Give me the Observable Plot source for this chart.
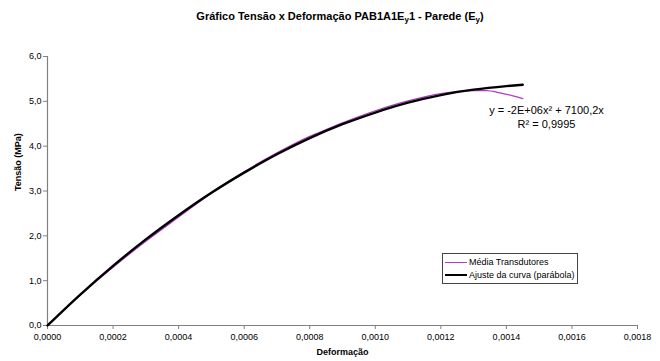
<!DOCTYPE html>
<html>
<head>
<meta charset="utf-8">
<script src="https://cdn.jsdelivr.net/npm/d3@7"></script>
<script src="https://cdn.jsdelivr.net/npm/@observablehq/plot@0.6"></script>
<style>
  body { margin: 0; background: #fff; font-family: "Liberation Sans", Arial, sans-serif; }
  #wrap { position: relative; width: 660px; height: 361px; }
  #title { height: 40px; box-sizing: border-box; padding-top: 10px; padding-left: 20px; text-align: center;
           font-weight: bold; font-size: 11px; color: #000; }
  #title sub { font-size: 8px; vertical-align: -2px; line-height: 0; }
  #legend { position: absolute; left: 442px; top: 253px; width: 136px; height: 31px; box-sizing: border-box;
            border: 1px solid #444; background: #fff; font-size: 9px; color: #000; }
  .row { position: absolute; left: 2px; height: 12px; display: flex; align-items: center; white-space: nowrap; }
  .sw { width: 22px; margin-right: 2px; }
</style>
</head>
<body>
<div id="wrap">
  <div id="title">Gráfico Tensão x Deformação PAB1A1E<sub>y</sub>1 - Parede (E<sub>y</sub>)</div>
  <div id="chart"></div>
  <div id="legend"></div>
</div>
<script>
// Series: "Média Transdutores" (measured average)
const mediaX = [0, 0.0001, 0.0002, 0.0003, 0.0004, 0.0005, 0.0006, 0.0007, 0.0008, 0.00085, 0.0009, 0.0010, 0.0011, 0.0012, 0.00125, 0.0013, 0.00134, 0.00138, 0.00142, 0.00145];
const mediaY = [0, 0.68, 1.30, 1.88, 2.42, 2.95, 3.43, 3.85, 4.22, 4.37, 4.52, 4.79, 5.01, 5.17, 5.22, 5.24, 5.24, 5.19, 5.12, 5.06];
// Series: "Ajuste da curva (parábola)" (fitted curve)
const ajusteX = [0, 0.0001, 0.0002, 0.0003, 0.0004, 0.0005, 0.0006, 0.0007, 0.0008, 0.0009, 0.0010, 0.0011, 0.0012, 0.0013, 0.0014, 0.00145];
const ajusteY = [0, 0.69, 1.33, 1.92, 2.46, 2.96, 3.41, 3.82, 4.18, 4.49, 4.75, 4.97, 5.14, 5.26, 5.34, 5.37];
// Ticks
const xTicks = [0, 0.0002, 0.0004, 0.0006, 0.0008, 0.0010, 0.0012, 0.0014, 0.0016, 0.0018];
const yTicks = [0, 1, 2, 3, 4, 5, 6];
// Labels
const seriesNames = ["Média Transdutores", "Ajuste da curva (parábola)"];
const seriesColors = ["#b03cc0", "#000000"];
const equationLines = ["y = -2E+06x² + 7100,2x", "R² = 0,9995"];

const media = mediaX.map((x, i) => ({x, y: mediaY[i]}));
const ajuste = ajusteX.map((x, i) => ({x, y: ajusteY[i]}));
const fmtX = d => d.toFixed(4).replace(".", ",");
const fmtY = d => d.toFixed(1).replace(".", ",");

const plot = Plot.plot({
  width: 660,
  height: 321,
  marginTop: 16,
  marginBottom: 36,
  marginLeft: 47,
  marginRight: 23,
  style: {fontFamily: "Liberation Sans, Arial, sans-serif", fontSize: "9px", color: "#000", background: "#fff"},
  x: {domain: [0, 0.0018]},
  y: {domain: [0, 6]},
  marks: [
    Plot.ruleY([0], {stroke: "#808080", strokeWidth: 1.2}),
    Plot.ruleX([0], {stroke: "#808080", strokeWidth: 1.2}),
    Plot.axisX({ticks: xTicks, tickFormat: fmtX, tickSize: 4, tickPadding: 4, stroke: "#808080", label: null}),
    Plot.axisY({ticks: yTicks, tickFormat: fmtY, tickSize: 4, tickPadding: 2, stroke: "#808080", label: null}),
    Plot.line(media, {x: "x", y: "y", stroke: seriesColors[0], strokeWidth: 1.3, curve: "monotone-x"}),
    Plot.line(ajuste, {x: "x", y: "y", stroke: seriesColors[1], strokeWidth: 2.4, curve: "monotone-x"}),
    Plot.text([equationLines[0]], {frameAnchor: "top-right", dx: -91, dy: 50, textAnchor: "middle", fontSize: 11}),
    Plot.text([equationLines[1]], {frameAnchor: "top-right", dx: -91, dy: 64, textAnchor: "middle", fontSize: 11}),
    Plot.text(["Tensão (MPa)"], {frameAnchor: "left", dx: -29, rotate: -90, fontWeight: "bold", fontSize: 9}),
    Plot.text(["Deformação"], {frameAnchor: "bottom", dy: 29, fontWeight: "bold", fontSize: 9})
  ]
});
document.getElementById("chart").appendChild(plot);

const legend = document.getElementById("legend");
seriesNames.forEach((name, i) => {
  const row = document.createElement("div");
  row.className = "row";
  row.style.top = (2 + i * 13) + "px";
  const sw = document.createElement("div");
  sw.className = "sw";
  sw.style.borderTop = (i === 0 ? 1.3 : 2.4) + "px solid " + seriesColors[i];
  const t = document.createElement("span");
  t.textContent = name;
  row.appendChild(sw);
  row.appendChild(t);
  legend.appendChild(row);
});
</script>
</body>
</html>
